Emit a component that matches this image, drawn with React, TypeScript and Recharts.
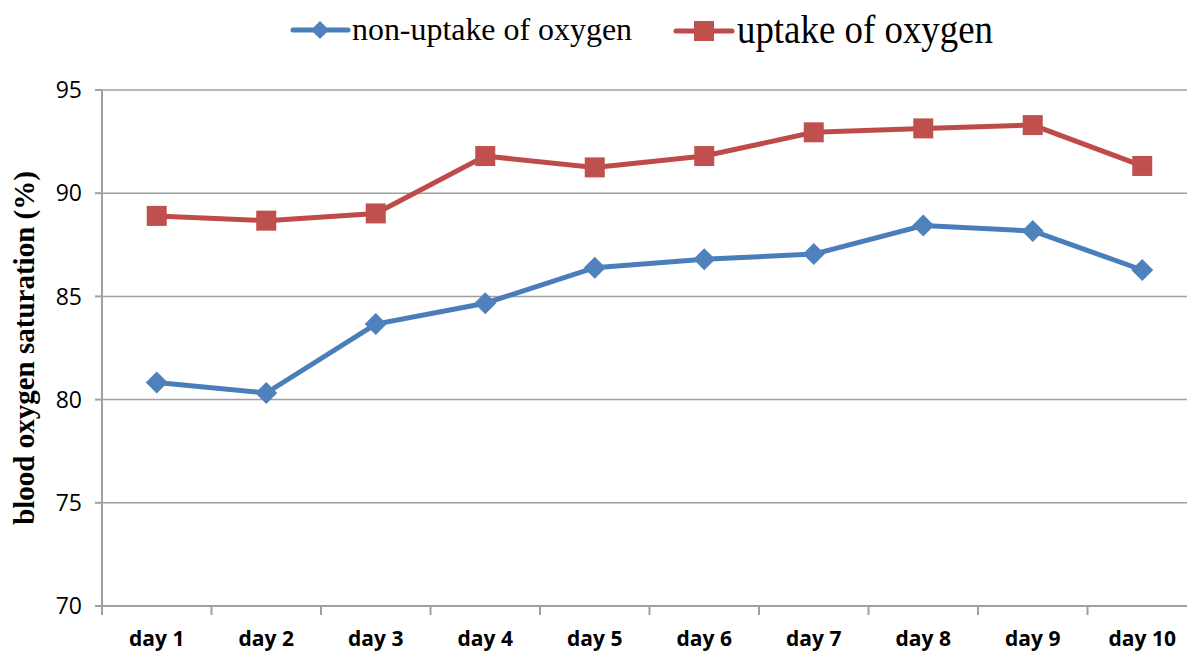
import React from 'react';
import { LineChart, Line, XAxis, YAxis, CartesianGrid } from 'recharts';

const days = ['day 1', 'day 2', 'day 3', 'day 4', 'day 5', 'day 6', 'day 7', 'day 8', 'day 9', 'day 10'];
const nonUptake = [80.83, 80.32, 83.66, 84.67, 86.39, 86.8, 87.05, 88.43, 88.17, 86.28];
const uptake = [88.9, 88.67, 89.02, 91.8, 91.25, 91.8, 92.95, 93.14, 93.3, 91.32];
const yTicks = [70, 75, 80, 85, 90, 95];
const edgeTicks = [0, 1, 2, 3, 4, 5, 6, 7, 8, 9, 10];

const data = days.map((day, i) => ({ day, nonUptake: nonUptake[i], uptake: uptake[i] }));

const BLUE_LINE = '#4A7EBB';
const BLUE_MARK = '#4F81BD';
const RED_LINE = '#BE4B48';
const RED_MARK = '#C0504D';
const GRID = '#a0a0a0';

const Diamond = (props: any) => {
  const { cx, cy, index } = props;
  const r = 11;
  return (
    <path
      key={`dia-${index}`}
      d={`M${cx},${cy - r}L${cx + r},${cy}L${cx},${cy + r}L${cx - r},${cy}Z`}
      fill={BLUE_MARK}
    />
  );
};

const Square = (props: any) => {
  const { cx, cy, index } = props;
  const s = 20;
  return <rect key={`sq-${index}`} x={cx - s / 2} y={cy - s / 2} width={s} height={s} fill={RED_MARK} />;
};

const YTitle = (props: any) => {
  const vb = props.viewBox;
  const x = vb.x + 34;
  const y = vb.y + vb.height / 2;
  return (
    <text
      x={x}
      y={y}
      transform={`rotate(-90, ${x}, ${y})`}
      textAnchor="middle"
      fontFamily="'Liberation Serif', 'Times New Roman', serif"
      fontWeight="bold"
      fontSize={29}
      fill="#000"
    >
      blood oxygen saturation (%)
    </text>
  );
};

const LegendOverlay = () => (
  <svg width={1187} height={60} style={{ position: 'absolute', left: 0, top: 0 }}>
    <line x1={293} x2={348} y1={30} y2={30} stroke={BLUE_LINE} strokeWidth={5} strokeLinecap="round" />
    <path d="M320,21L329,30L320,39L311,30Z" fill={BLUE_MARK} />
    <text
      x={352}
      y={40}
      fontFamily="'Liberation Serif', 'Times New Roman', serif"
      fontSize={32}
      textLength={280}
      lengthAdjust="spacingAndGlyphs"
      fill="#000"
    >
      non-uptake of oxygen
    </text>
    <line x1={676} x2={732} y1={31} y2={31} stroke={RED_LINE} strokeWidth={5} strokeLinecap="round" />
    <rect x={694} y={21} width={20} height={20} fill={RED_MARK} />
    <text
      x={737}
      y={43}
      fontFamily="'Liberation Serif', 'Times New Roman', serif"
      fontSize={40}
      textLength={256}
      lengthAdjust="spacingAndGlyphs"
      fill="#000"
    >
      uptake of oxygen
    </text>
  </svg>
);

export default function App() {
  return (
    <div style={{ position: 'absolute', left: 0, top: 0, width: 1187, height: 653, overflow: 'hidden', background: '#fff' }}>
      <LineChart width={1210} height={653} data={data} margin={{ top: 90, right: 13, bottom: 45, left: 0 }}>
        <CartesianGrid vertical={false} stroke={GRID} strokeWidth={1.5} />
        <XAxis
          dataKey="day"
          scale="band"
          height={1}
          interval={0}
          tickLine={false}
          tickSize={0}
          tickMargin={25}
          axisLine={{ stroke: GRID, strokeWidth: 2 }}
          tick={{ fill: '#000', fontSize: 21, fontWeight: 'bold', fontFamily: "'Open Sans', sans-serif" }}
        />
        <XAxis
          xAxisId="edge"
          dataKey="slot"
          type="number"
          domain={[0, 10]}
          allowDataOverflow
          ticks={edgeTicks}
          interval={0}
          height={1}
          axisLine={false}
          tickSize={8}
          tickLine={{ stroke: GRID, strokeWidth: 2 }}
          tickFormatter={() => ''}
        />
        <YAxis
          width={102}
          domain={[70, 95]}
          ticks={yTicks}
          interval={0}
          tickSize={7}
          tickMargin={13}
          axisLine={{ stroke: GRID, strokeWidth: 2 }}
          tickLine={{ stroke: GRID, strokeWidth: 2 }}
          tick={{ fill: '#000', fontSize: 23, fontFamily: "'Open Sans', sans-serif" }}
          label={{ content: YTitle }}
        />
        <Line
          dataKey="nonUptake"
          stroke={BLUE_LINE}
          strokeWidth={5}
          dot={Diamond}
          activeDot={false}
          isAnimationActive={false}
        />
        <Line
          dataKey="uptake"
          stroke={RED_LINE}
          strokeWidth={5}
          dot={Square}
          activeDot={false}
          isAnimationActive={false}
        />
      </LineChart>
      <LegendOverlay />
    </div>
  );
}
